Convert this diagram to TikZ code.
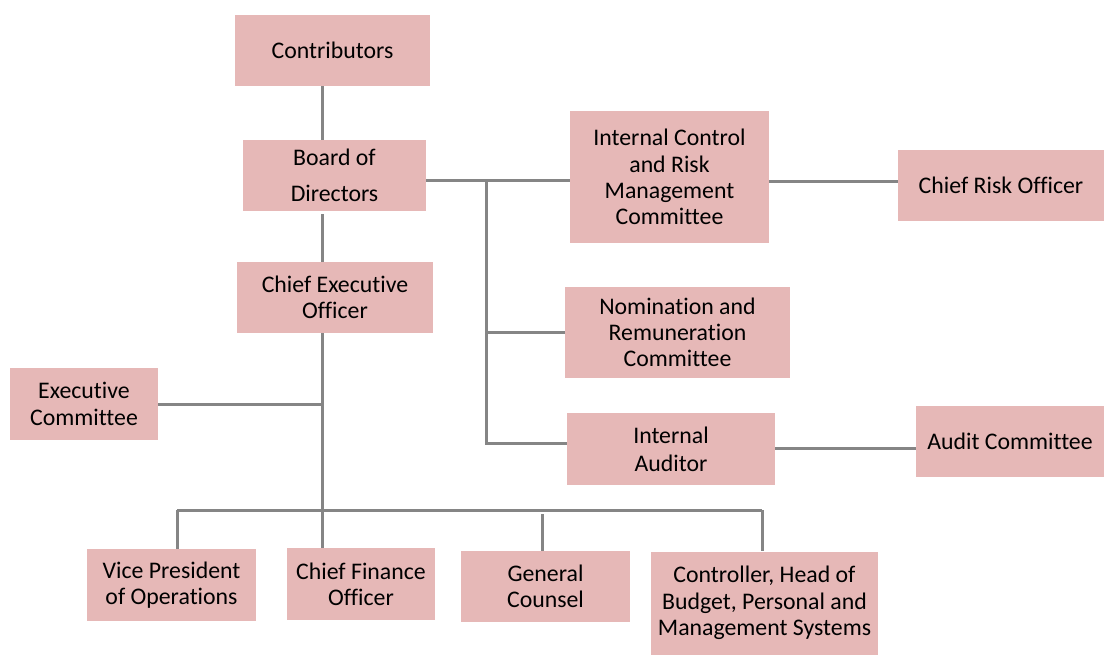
\documentclass[tikz,border=0pt]{standalone}
\usepackage{fontspec}
\setmainfont{Carlito}[RawFeature={-liga}]
\usetikzlibrary{calc}
\definecolor{boxfill}{HTML}{E6B8B7}
\definecolor{linegray}{HTML}{858585}
\begin{document}
\begin{tikzpicture}[x=1pt,y=-1pt,
  box/.style={fill=boxfill, draw=none, align=center, inner sep=0pt,
    font=\fontsize{23.8}{26.3}\selectfont},
  conn/.style={draw=linegray, line width=3pt}]
\useasboundingbox (0,0) rectangle (1104,654);

% boxes (centre, width, height)
\node[box, minimum width=195, minimum height=71] (contrib) at (332.5,50.5) {Contributors};
\node[box, minimum width=183, minimum height=71] (board) at (334.5,175.5) {Board of\\[10pt]Directors};
\node[box, minimum width=199, minimum height=132] (icrm) at (669.5,177) {Internal Control\\and Risk\\Management\\Committee};
\node[box, minimum width=206, minimum height=71] (cro) at (1001,185.5) {Chief Risk Officer};
\node[box, minimum width=196, minimum height=71] (ceo) at (335,297.5) {Chief Executive\\Officer};
\node[box, minimum width=225, minimum height=91] (nom) at (677.5,332.5) {Nomination and\\Remuneration\\Committee};
\node[box, minimum width=148, minimum height=72] (exec) at (84,404) {Executive\\Committee};
\node[box, minimum width=208, minimum height=72] (ia) at (671,449) {Internal\\[2pt]Auditor};
\node[box, minimum width=188, minimum height=71] (audit) at (1010,441.5) {Audit Committee};
\node[box, minimum width=169, minimum height=72] (vp) at (171.5,585) {Vice President\\of Operations};
\node[box, minimum width=148, minimum height=72] (cfo) at (361,584) {Chief Finance\\Officer};
\node[box, minimum width=169, minimum height=71] (gc) at (545.5,586.5) {General\\Counsel};
\node[box, minimum width=227, minimum height=103] (ctrl) at (764.5,603) {\raisebox{-4pt}{\parbox{227pt}{\centering Controller, Head of\\Budget, Personal and\\Management Systems}}};

% junction points of the connector tree
\coordinate (spine) at (322,0);
\coordinate (rb) at (486,180);
\coordinate (rbend) at (486,443);
\coordinate (crolevel) at (0,181);
\coordinate (auditlevel) at (0,448);
\coordinate (busL) at (177,510);
\coordinate (busR) at (762,510);
\coordinate (gctop) at (542,514);

% top spine
\draw[conn] (contrib.south -| spine) -- (board.north -| spine);
\draw[conn] ($(board.south -| spine)+(0,3)$) -- (ceo.north -| spine);
\draw[conn] (ceo.south -| spine) -- (cfo.north -| spine);
\draw[conn] (exec.east) -- (exec.east -| spine);

% board committees
\draw[conn] (board.east |- rb) -- (icrm.west |- rb);
\draw[conn] (rb) -- (rbend) -- (ia.west |- rbend);
\draw[conn] (rb |- nom.west) -- (nom.west);
\draw[conn] (icrm.east |- crolevel) -- (cro.west |- crolevel);
\draw[conn] (ia.east |- auditlevel) -- (audit.west |- auditlevel);

% bottom bus
\draw[conn] (busL) -- (busR);
\draw[conn] (busL) -- (vp.north -| busL);
\draw[conn] (gctop) -- (gc.north -| gctop);
\draw[conn] (busR) -- (ctrl.north -| busR);
\end{tikzpicture}
\end{document}
